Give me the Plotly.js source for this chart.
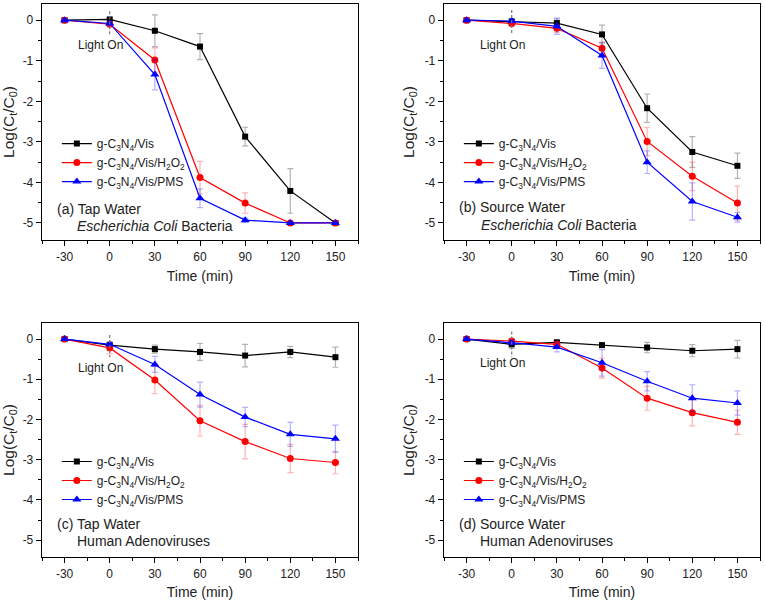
<!DOCTYPE html>
<html>
<head>
<meta charset="utf-8">
<script src="https://cdn.plot.ly/plotly-3.0.1.min.js"></script>
<style>html,body{margin:0;padding:0;background:#fff;}#chart{width:765px;height:600px;}</style>
</head>
<body>
<div id="chart"></div>
<script>
// ---------- data ----------
const time = [-30, 0, 30, 60, 90, 120, 150];
const seriesNames = ["g-C<sub>3</sub>N<sub>4</sub>/Vis", "g-C<sub>3</sub>N<sub>4</sub>/Vis/H<sub>2</sub>O<sub>2</sub>", "g-C<sub>3</sub>N<sub>4</sub>/Vis/PMS"];
const xTickVals = [-30, 0, 30, 60, 90, 120, 150];
const xTickText = ["-30", "0", "30", "60", "90", "120", "150"];
const yTickVals = [0, -1, -2, -3, -4, -5];
const yTickText = ["0", "-1", "-2", "-3", "-4", "-5"];

// (a) Tap water, E. coli
const aVis      = [0, 0.02, -0.26, -0.65, -2.87, -4.21, -5.0];
const aVisErr   = [0, 0.0, 0.39, 0.32, 0.23, 0.55, 0.0];
const aH2O2     = [0, -0.10, -0.98, -3.88, -4.51, -5.0, -5.0];
const aH2O2Err  = [0, 0.03, 0.30, 0.40, 0.25, 0.0, 0.0];
const aPMS      = [0, -0.08, -1.34, -4.39, -4.93, -5.0, -5.0];
const aPMSErr   = [0, 0.03, 0.38, 0.23, 0.05, 0.0, 0.0];

// (b) Source water, E. coli
const bVis      = [0, -0.03, -0.07, -0.35, -2.17, -3.25, -3.59];
const bVisErr   = [0, 0.0, 0.10, 0.23, 0.35, 0.38, 0.31];
const bH2O2     = [0, -0.08, -0.20, -0.69, -2.99, -3.85, -4.51];
const bH2O2Err  = [0, 0.06, 0.10, 0.15, 0.35, 0.35, 0.42];
const bPMS      = [0, -0.02, -0.15, -0.87, -3.50, -4.47, -4.86];
const bPMSErr   = [0, 0.05, 0.20, 0.32, 0.28, 0.46, 0.12];

// (c) Tap water, adenoviruses
const cVis      = [0, -0.15, -0.25, -0.32, -0.41, -0.32, -0.45];
const cVisErr   = [0, 0.05, 0.10, 0.21, 0.28, 0.14, 0.25];
const cH2O2     = [0, -0.22, -1.02, -2.03, -2.55, -2.97, -3.07];
const cH2O2Err  = [0, 0.15, 0.34, 0.38, 0.43, 0.35, 0.28];
const cPMS      = [0, -0.13, -0.63, -1.38, -1.94, -2.37, -2.48];
const cPMSErr   = [0, 0.05, 0.20, 0.31, 0.24, 0.30, 0.34];

// (d) Source water, adenoviruses
const dVis      = [0, -0.13, -0.08, -0.15, -0.21, -0.29, -0.25];
const dVisErr   = [0, 0.10, 0.05, 0.05, 0.13, 0.15, 0.22];
const dH2O2     = [0, -0.05, -0.13, -0.72, -1.47, -1.83, -2.07];
const dH2O2Err  = [0, 0.05, 0.05, 0.25, 0.30, 0.33, 0.30];
const dPMS      = [0, -0.09, -0.20, -0.59, -1.05, -1.47, -1.59];
const dPMSErr   = [0, 0.05, 0.12, 0.33, 0.24, 0.33, 0.30];

// "Light On" dashed marker at t = 0 (top, bottom) per panel
const lightOnTime = 0;
const lightOnSpan = [[0.22, -0.35], [0.25, -0.33], [0.10, -0.45], [0.19, -0.45]];

const panelLabels = [
  ["(a) Tap Water", "<i>Escherichia Coli</i> Bacteria"],
  ["(b) Source Water", "<i>Escherichia Coli</i> Bacteria"],
  ["(c) Tap Water", "Human Adenoviruses"],
  ["(d) Source Water", "Human Adenoviruses"]
];

// ---------- build ----------
const FONT = "Arial, 'Liberation Sans', Helvetica, sans-serif";
const colors = ["#000000", "#ff0000", "#0000ff"];
const errColors = ["rgba(0,0,0,0.3)", "rgba(255,0,0,0.3)", "rgba(0,0,255,0.3)"];
const symbols = ["square", "circle", "triangle-up"];
const msize = [6, 7, 8];

const panels = [
  {vals: [aVis, aH2O2, aPMS], errs: [aVisErr, aH2O2Err, aPMSErr]},
  {vals: [bVis, bH2O2, bPMS], errs: [bVisErr, bH2O2Err, bPMSErr]},
  {vals: [cVis, cH2O2, cPMS], errs: [cVisErr, cH2O2Err, cPMSErr]},
  {vals: [dVis, dH2O2, dPMS], errs: [dVisErr, dH2O2Err, dPMSErr]}
];

const W = 765, H = 600;
// plot boxes in pixels [left, right, top, bottom]
const boxes = [[42, 358, 4, 240], [444, 760, 4, 240], [42, 358, 323, 557], [444, 760, 323, 557]];

const traces = [];
const layout = {
  width: W, height: H,
  margin: {l: 0, r: 0, t: 0, b: 0},
  paper_bgcolor: "#ffffff", plot_bgcolor: "#ffffff",
  font: {family: FONT, size: 11, color: "#222"},
  showlegend: true,
  annotations: [], shapes: []
};

panels.forEach((p, i) => {
  const n = i + 1;
  const xa = n === 1 ? "x" : "x" + n;
  const ya = n === 1 ? "y" : "y" + n;
  const legName = n === 1 ? "legend" : "legend" + n;
  p.vals.forEach((v, k) => {
    traces.push({
      type: "scatter", mode: "lines+markers",
      x: time, y: v,
      name: seriesNames[k],
      xaxis: xa, yaxis: ya, legend: legName,
      line: {color: colors[k], width: 1.2},
      marker: {symbol: symbols[k], size: msize[k], color: colors[k]},
      error_y: {type: "data", array: p.errs[k], visible: true, color: errColors[k], thickness: 1.2, width: 3}
    });
  });
  const b = boxes[i];
  const xd = [b[0] / W, b[1] / W];
  const yd = [1 - b[3] / H, 1 - b[2] / H];
  const axBase = {
    showline: true, linecolor: "#000", linewidth: 1.3, mirror: true,
    showgrid: false, zeroline: false,
    ticks: "outside", ticklen: 5, tickwidth: 1, tickcolor: "#000",
    tickfont: {family: FONT, size: 12, color: "#222"}
  };
  layout["xaxis" + (n === 1 ? "" : n)] = Object.assign({}, axBase, {
    domain: xd, anchor: ya, range: [-45, 165], fixedrange: true,
    tickmode: "array", tickvals: xTickVals, ticktext: xTickText,
    minor: {ticks: "outside", ticklen: 3, tickwidth: 1, tickcolor: "#000", tickmode: "linear", tick0: -45, dtick: 30},
    title: {text: "Time (min)", font: {family: FONT, size: 14, color: "#222"}, standoff: 8}
  });
  layout["yaxis" + (n === 1 ? "" : n)] = Object.assign({}, axBase, {
    domain: yd, anchor: xa, range: [-5.42, 0.4], fixedrange: true,
    tickmode: "array", tickvals: yTickVals, ticktext: yTickText,
    minor: {ticks: "outside", ticklen: 3, tickwidth: 1, tickcolor: "#000", tickmode: "linear", tick0: 0.5, dtick: 1},
    title: {text: "Log(C<sub>t</sub>/C<sub>0</sub>)", font: {family: FONT, size: 15.5, color: "#222"}, standoff: 6}
  });
  // legend position in paper coords
  const lx = xd[0] + (b[1] - b[0]) / W * 0.047;
  const ly = yd[0] + (yd[1] - yd[0]) * 0.47;
  layout[legName] = {
    x: lx, y: ly, xref: "paper", yref: "paper",
    xanchor: "left", yanchor: "top",
    bgcolor: "rgba(0,0,0,0)", borderwidth: 0,
    font: {family: FONT, size: 12, color: "#222"},
    tracegroupgap: 0, itemwidth: 30
  };

  // dashed light-on marker
  layout.shapes.push({
    type: "line", xref: xa, yref: ya,
    x0: lightOnTime, x1: lightOnTime, y0: lightOnSpan[i][0], y1: lightOnSpan[i][1],
    line: {color: "#777", width: 1.2, dash: "3px,2px"}
  });
  const dref = {xref: xa + " domain", yref: ya + " domain"};
  layout.annotations.push(Object.assign({
    x: 0.186, y: [0.826, 0.826, 0.807, 0.828][i], text: "Light On", showarrow: false,
    xanchor: "center", yanchor: "middle",
    font: {family: FONT, size: 12, color: "#222"}
  }, dref));
  layout.annotations.push(Object.assign({
    x: 0.04, y: [0.131, 0.14, 0.14, 0.14][i], text: panelLabels[i][0], showarrow: false,
    xanchor: "left", yanchor: "middle",
    font: {family: FONT, size: 14, color: "#222"}
  }, dref));
  layout.annotations.push(Object.assign({
    x: [0.104, 0.111, 0.105, 0.107][i], y: [0.059, 0.064, 0.068, 0.068][i], text: panelLabels[i][1], showarrow: false,
    xanchor: "left", yanchor: "middle",
    font: {family: FONT, size: 14, color: "#222"}
  }, dref));
});

Plotly.newPlot("chart", traces, layout, {displayModeBar: false, staticPlot: true});
</script>
</body>
</html>
